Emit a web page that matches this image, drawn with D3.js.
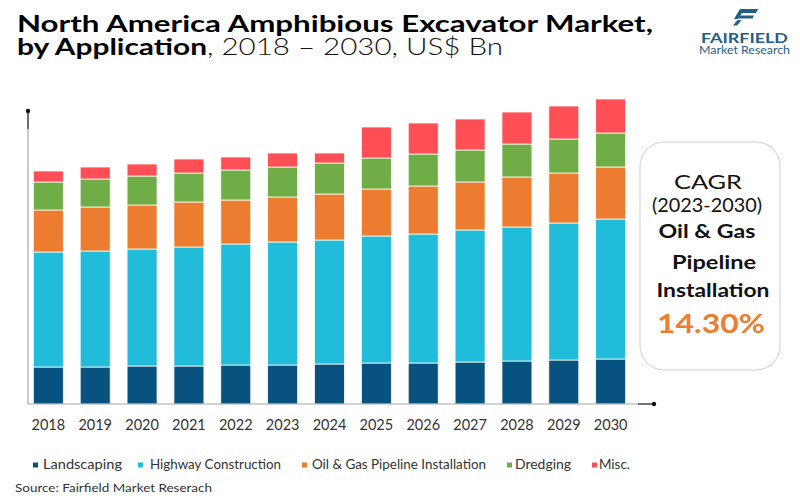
<!DOCTYPE html>
<html>
<head>
<meta charset="utf-8">
<script src="https://cdn.jsdelivr.net/npm/d3@7"></script>
<style>
  html, body { margin: 0; padding: 0; background: #fff; }
  svg { display: block; font-family: Lato, "Noto Sans", sans-serif; }
</style>
</head>
<body>
<svg id="chart" width="800" height="499"></svg>
<script>
// ---- data (US$ Bn) ----
const years = ["2018","2019","2020","2021","2022","2023","2024","2025","2026","2027","2028","2029","2030"];
const seriesNames = ["Landscaping","Highway Construction","Oil & Gas Pipeline Installation","Dredging","Misc."];
const landscaping = [0.037,0.037,0.038,0.038,0.039,0.039,0.040,0.041,0.041,0.042,0.043,0.044,0.045];
const highway     = [0.115,0.116,0.117,0.119,0.121,0.123,0.124,0.127,0.129,0.132,0.134,0.137,0.140];
const oilGas      = [0.042,0.044,0.044,0.045,0.044,0.045,0.046,0.047,0.048,0.048,0.050,0.050,0.052];
const dredging    = [0.028,0.028,0.029,0.029,0.030,0.030,0.031,0.031,0.032,0.032,0.033,0.034,0.034];
const misc        = [0.011,0.012,0.012,0.014,0.013,0.014,0.010,0.031,0.031,0.031,0.032,0.033,0.034];
const colors = ["#07527F","#21BCD9","#EC7C30","#71AD47","#FD4F55"];

const svg = d3.select("#chart");

// table for stacking
const table = years.map((y, i) => ({
  year: y,
  "Landscaping": landscaping[i],
  "Highway Construction": highway[i],
  "Oil & Gas Pipeline Installation": oilGas[i],
  "Dredging": dredging[i],
  "Misc.": misc[i]
}));
const stacked = d3.stack().keys(seriesNames)(table);

const x = d3.scaleBand().domain(years).range([24.9, 634.1]).paddingInner(0.36).paddingOuter(0.18);
const y = d3.scaleLinear().domain([0, 0.293]).range([404, 111]);
const color = d3.scaleOrdinal().domain(seriesNames).range(colors);

// bars
svg.append("g").selectAll("g").data(stacked).join("g")
  .attr("fill", d => color(d.key))
  .selectAll("rect").data(d => d).join("rect")
  .attr("x", d => x(d.data.year))
  .attr("width", x.bandwidth())
  .attr("y", d => y(d[1]))
  .attr("height", d => y(d[0]) - y(d[1]))
  .attr("stroke", "#fbfbf3")
  .attr("stroke-width", 0.8);

// axes lines
svg.append("line").attr("x1", 28).attr("x2", 28).attr("y1", y(0.293)).attr("y2", y(0))
  .attr("stroke", "#a6a6a6").attr("stroke-width", 1.2);
svg.append("line").attr("x1", 28).attr("x2", 28).attr("y1", y(0.293)).attr("y2", y(0.275))
  .attr("stroke", "#333").attr("stroke-width", 1.2);
svg.append("circle").attr("cx", 28).attr("cy", y(0.293)).attr("r", 2.2).attr("fill", "#111");
svg.append("line").attr("x1", 28).attr("x2", 654).attr("y1", y(0)).attr("y2", y(0))
  .attr("stroke", "#a6a6a6").attr("stroke-width", 1.2);
svg.append("line").attr("x1", 638).attr("x2", 654).attr("y1", y(0)).attr("y2", y(0))
  .attr("stroke", "#333").attr("stroke-width", 1.2);
svg.append("circle").attr("cx", 654).attr("cy", y(0)).attr("r", 2.2).attr("fill", "#111");

// x tick labels via axis
const xAxis = svg.append("g").attr("transform", "translate(0,404)")
  .call(d3.axisBottom(x).tickSize(0).tickPadding(0));
xAxis.select(".domain").remove();
xAxis.selectAll("text")
  .attr("y", 26).attr("dy", 0)
  .attr("font-family", "Lato, sans-serif")
  .attr("font-size", 14.5)
  .attr("fill", "#333");

// title
svg.append("text").attr("x", 17).attr("y", 32)
  .attr("font-size", 23).attr("font-weight", 700).attr("fill", "#000")
  .attr("textLength", 636).attr("lengthAdjust", "spacingAndGlyphs")
  .text("North America Amphibious Excavator Market,");
svg.append("text").attr("x", 17).attr("y", 55)
  .attr("font-size", 23).attr("font-weight", 700).attr("fill", "#000")
  .attr("textLength", 190).attr("lengthAdjust", "spacingAndGlyphs")
  .text("by Application");
svg.append("text").attr("x", 207).attr("y", 55)
  .attr("font-size", 23).attr("font-weight", 300).attr("fill", "#111")
  .attr("textLength", 296).attr("lengthAdjust", "spacingAndGlyphs")
  .text(", 2018 \u2013 2030, US$ Bn");

// logo
const logo = svg.append("g").attr("fill", "#235E87");
logo.append("path").attr("d", "M740,9 L758,9 L756,13 L742,13 L738,19 L734,19 Z");
logo.append("path").attr("d", "M740,15.5 L754,15.5 L752.5,18.5 L738.5,18.5 Z");
logo.append("path").attr("d", "M737.5,20 L741.5,20 L737,25.5 L733,25.5 Z");
svg.append("text").attr("x", 701).attr("y", 42.5)
  .attr("font-size", 12.5).attr("font-weight", 700).attr("fill", "#235E87")
  .attr("textLength", 87).attr("lengthAdjust", "spacingAndGlyphs")
  .text("FAIRFIELD");
svg.append("text").attr("x", 699).attr("y", 53.5)
  .attr("font-size", 11).attr("font-weight", 400).attr("fill", "#235E87")
  .attr("textLength", 91).attr("lengthAdjust", "spacingAndGlyphs")
  .text("Market Research");

// CAGR box
svg.append("rect").attr("x", 640).attr("y", 142).attr("width", 140).attr("height", 228)
  .attr("rx", 24).attr("ry", 24)
  .attr("fill", "#fff").attr("stroke", "#cfcfcf").attr("stroke-width", 1);
const boxLines = [
  {t: "CAGR", y: 189, size: 20, w: 400, len: 68, cx: 708, fill: "#111"},
  {t: "(2023-2030)", y: 212, size: 20, w: 400, len: 110, cx: 707, fill: "#111"},
  {t: "Oil & Gas", y: 238, size: 19, w: 700, len: 97, cx: 707, fill: "#111"},
  {t: "Pipeline", y: 269, size: 19, w: 700, len: 84, cx: 714, fill: "#111"},
  {t: "Installation", y: 297, size: 19, w: 700, len: 113, cx: 713, fill: "#111"},
  {t: "14.30%", y: 333, size: 26, w: 700, len: 108, cx: 711, fill: "#ED7D31"}
];
svg.append("g").selectAll("text").data(boxLines).join("text")
  .attr("x", d => d.cx).attr("y", d => d.y)
  .attr("text-anchor", "middle")
  .attr("font-size", d => d.size).attr("font-weight", d => d.w)
  .attr("fill", d => d.fill)
  .attr("textLength", d => d.len).attr("lengthAdjust", "spacingAndGlyphs")
  .text(d => d.t);

// legend
const legendPos = [
  {sq: 33, tx: 43, len: 79},
  {sq: 138, tx: 150, len: 131},
  {sq: 302, tx: 312, len: 174},
  {sq: 507, tx: 515, len: 56},
  {sq: 592, tx: 599, len: 31}
];
const legend = svg.append("g");
seriesNames.forEach((name, i) => {
  legend.append("rect").attr("x", legendPos[i].sq).attr("y", 462.5)
    .attr("width", 5).attr("height", 5).attr("fill", color(name));
  legend.append("text").attr("x", legendPos[i].tx).attr("y", 469)
    .attr("font-size", 12.5).attr("fill", "#333")
    .attr("textLength", legendPos[i].len).attr("lengthAdjust", "spacingAndGlyphs")
    .text(name);
});

// source
svg.append("text").attr("x", 15).attr("y", 492)
  .attr("font-size", 12).attr("fill", "#333")
  .attr("textLength", 197).attr("lengthAdjust", "spacingAndGlyphs")
  .text("Source: Fairfield Market Reserach");
</script>
</body>
</html>
